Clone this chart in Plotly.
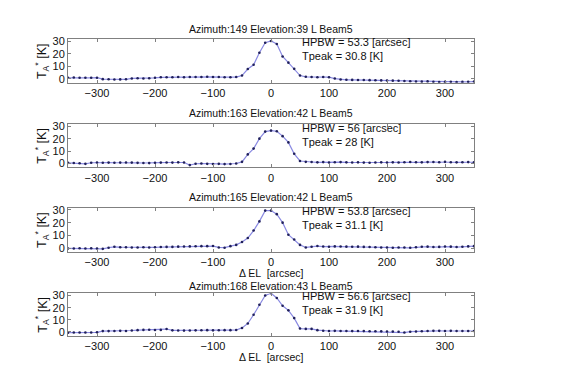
import plotly.graph_objects as go

offsets = list(range(-350, 351, 10))  # Delta EL [arcsec]

titles = [
    "Azimuth:149 Elevation:39 L Beam5",
    "Azimuth:163 Elevation:42 L Beam5",
    "Azimuth:165 Elevation:42 L Beam5",
    "Azimuth:168 Elevation:43 L Beam5",
]
fit_labels = [
    "HPBW = 53.3 [arcsec]<br>Tpeak = 30.8 [K]",
    "HPBW = 56 [arcsec]<br>Tpeak = 28 [K]",
    "HPBW = 53.8 [arcsec]<br>Tpeak = 31.1 [K]",
    "HPBW = 56.6 [arcsec]<br>Tpeak = 31.9 [K]",
]

# -350 ... 350 step 10 (71 values each)
ta_az149 = [
    0.8, 1.0, 0.9, 0.8, 0.8, 0.9, -0.3, -0.4, -0.6, -0.5, -0.4, 0.3, 0.4, 0.3, 0.5, 0.8,
    1.2, 1.3, 1.3, 1.4, 1.3, 1.4, 1.5, 1.5, 1.6, 1.5, 1.4, 1.3, 1.3, 1.4,
    2.6, 7.9, 11.3, 21.0, 29.0, 30.5, 28.0, 18.0, 13.0, 8.0, 2.6,
    1.6, 1.4, 1.3, 1.4, 1.3, 0.2, -0.6, -0.8, -0.9, -1.0, -1.0, -1.1, -1.2, -1.3,
    -1.4, -1.5, -1.6, -1.8, -2.0, -2.2, -2.3, -2.1, -2.4, -2.6, -2.5, -2.4, -2.6, -2.5, -2.4, -2.2,
]
ta_az163 = [
    0.5, 0.4, 0.2, -0.3, 0.6, 0.8, 0.6, 0.7, 0.6, 0.7, 0.8, 0.7, 0.5, 0.4, 0.3, 0.6,
    0.7, 0.8, 0.7, 0.9, 0.8, -1.3, -0.2, 0.0, -0.3, -0.4, -0.3, -0.5, -0.4, 0.0,
    1.3, 7.3, 12.0, 20.0, 25.7, 26.5, 26.0, 22.0, 17.0, 7.8, 2.0,
    1.3, 1.2, 0.9, 1.1, 0.8, 1.0, 1.1, 0.9, 0.8, 0.9, 0.7, 0.6, 0.8, 0.9,
    0.8, 0.9, 0.8, 1.0, 1.2, 1.0, 0.9, 1.1, 1.2, 1.0, 1.3, 1.0, 0.9, 1.0, 1.1, 1.0,
]
ta_az165 = [
    -0.3, -0.3, -0.2, -0.3, -0.2, -0.3, -0.6, 0.3, 1.0, 0.7, 0.6, 0.5, 0.5, 0.6, 0.5, 0.6,
    0.8, 0.9, 0.9, 1.1, 1.2, 1.3, 1.4, 1.5, 1.5, 1.6, 0.5, 0.3, 1.5, 2.5,
    4.8, 7.9, 13.8, 21.0, 29.5, 29.5, 26.7, 20.0, 10.5, 6.7, 2.5,
    0.5, 1.0, 1.6, 1.2, 1.0, 1.3, 1.2, 1.1, 1.0, 1.1, 0.9, 0.8, 0.6, 0.4,
    0.4, 0.3, 0.5, 0.4, 0.2, 0.6, 1.0, 1.1, 0.8, 0.9, 1.2, 1.1, 0.8, 1.0, 1.3, 1.5,
]
ta_az168 = [
    -0.6, -0.5, -0.4, -0.4, -0.5, -0.3, 0.7, 0.7, 0.8, 0.9, 0.8, 1.2, 1.5, 1.7, 1.8, 1.6,
    1.7, 2.4, 1.3, 1.2, 1.1, 1.2, 1.3, 1.4, 1.5, 1.3, 1.4, 1.5, 1.5, 1.6,
    3.3, 7.0, 14.2, 22.4, 30.0, 31.9, 28.0, 21.6, 17.8, 11.4, 2.8,
    2.5, 2.5, 1.5, 1.0, 0.8, 0.9, 0.8, 0.8, 0.7, 0.8, 0.7, 0.6, 0.6, 0.5,
    0.4, 0.3, 0.2, -0.5, 0.2, 0.4, 0.6, 0.8, 0.9, 0.9, 0.8, 0.9, 0.8, 0.8, 0.8, 0.8,
]
series = [ta_az149, ta_az163, ta_az165, ta_az168]

x_ticks = [-300, -200, -100, 0, 100, 200, 300]
y_ticks = [0, 10, 20, 30]
x_range = [-350, 350]
y_range = [-3.2, 31.7]

W, H = 575, 391
px_left, px_right = 68, 474
panels_px = [(36, 80), (122, 166), (207, 252), (294, 337)]  # (top, bottom) in px
title_px = [25, 110.5, 196.5, 286]
fit_px = [39, 127, 211, 297]  # centre of first fit-label line
xlabel_px = [None, None, 273.5, 358.5]

font_family = "Liberation Sans, Arial, sans-serif"
FS = 10.5
fig = go.Figure()
layout = dict(
    width=W, height=H,
    margin=dict(l=0, r=0, t=0, b=0),
    paper_bgcolor="white", plot_bgcolor="white",
    showlegend=False,
    font=dict(family=font_family, size=FS, color="#111111"),
)
annotations = []
xdom = [px_left / W, px_right / W]
for i, (ys, (top, bot)) in enumerate(zip(series, panels_px)):
    n = i + 1
    xa = "x" if n == 1 else f"x{n}"
    ya = "y" if n == 1 else f"y{n}"
    fig.add_trace(go.Scatter(
        x=offsets, y=ys, xaxis=xa, yaxis=ya, mode="lines+markers",
        line=dict(color="#8a8ae2", width=1.2),
        marker=dict(color="#20205a", size=2.6),
        cliponaxis=True,
    ))
    ydom = [1 - bot / H, 1 - top / H]
    axcommon = dict(showline=True, mirror="ticks", linecolor="#808080", linewidth=1,
                    ticks="inside", ticklen=3, tickcolor="#808080", showgrid=False,
                    zeroline=False, tickfont=dict(size=FS + 0.5, color="#111111"))
    layout["xaxis" if n == 1 else f"xaxis{n}"] = dict(
        domain=xdom, range=x_range, tickvals=x_ticks, anchor=ya, **axcommon)
    layout["yaxis" if n == 1 else f"yaxis{n}"] = dict(
        domain=ydom, range=y_range, tickvals=y_ticks, anchor=xa, **axcommon)
    annotations.append(dict(
        text=titles[i], xref="paper", yref="paper",
        x=(px_left + px_right) / 2 / W, y=1 - title_px[i] / H,
        xanchor="center", yanchor="middle", showarrow=False,
        font=dict(size=FS, color="#111111")))
    annotations.append(dict(
        text=fit_labels[i], xref="paper", yref="paper",
        x=300 / W, y=1 - (fit_px[i] + 6.5) / H,
        xanchor="left", yanchor="middle", align="left", showarrow=False,
        font=dict(size=FS + 0.5, color="#111111")))
    annotations.append(dict(
        text="T<sub>A</sub><sup>*</sup> [K]", xref="paper", yref="paper",
        x=42 / W, y=1 - (top + bot) / 2 / H, textangle=-90,
        xanchor="center", yanchor="middle", showarrow=False,
        font=dict(size=12.5, color="#111111")))
    if xlabel_px[i] is not None:
        annotations.append(dict(
            text="\u0394 EL  [arcsec]", xref="paper", yref="paper",
            x=(px_left + px_right) / 2 / W, y=1 - xlabel_px[i] / H,
            xanchor="center", yanchor="middle", showarrow=False,
            font=dict(size=FS, color="#111111")))
layout["annotations"] = annotations
fig.update_layout(**layout)
fig.write_html("out.html", config={"displayModeBar": False},
               post_script="document.body.style.margin='0px';")
